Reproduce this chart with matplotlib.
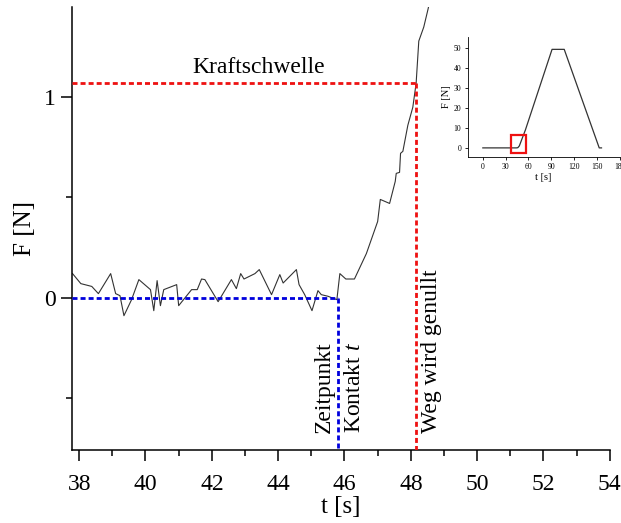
import numpy as np
import matplotlib
matplotlib.use('Agg')
import matplotlib.pyplot as plt
from matplotlib.patches import Rectangle

plt.rcParams['font.family'] = ['Liberation Serif', 'DejaVu Serif']
plt.rcParams['mathtext.fontset'] = 'custom'
plt.rcParams['mathtext.it'] = 'Liberation Serif:italic'
plt.rcParams['mathtext.rm'] = 'Liberation Serif'

# main measurement (zoomed section)
t_main = [37.8, 38.05, 38.38, 38.58, 38.95, 39.1, 39.23, 39.35, 39.58, 39.8,
          40.15, 40.25, 40.35, 40.45, 40.55, 40.94, 41.0, 41.39, 41.56, 41.69,
          41.79, 42.19, 42.59, 42.74, 42.87, 42.97, 43.3, 43.43, 43.8, 44.05,
          44.15, 44.55, 44.63, 44.8, 45.02, 45.2, 45.3, 45.5, 45.77, 45.86,
          46.04, 46.3, 46.66, 47.0, 47.08, 47.36, 47.53, 47.56, 47.66, 47.69,
          47.76, 47.91, 48.06, 48.16, 48.24, 48.39, 48.52, 48.6]
f_main = [0.12, 0.07, 0.056, 0.02, 0.12, 0.02, 0.01, -0.09, -0.01, 0.09,
          0.04, -0.065, 0.085, -0.04, 0.04, 0.065, -0.04, 0.04, 0.04, 0.093,
          0.09, -0.02, 0.09, 0.045, 0.12, 0.093, 0.12, 0.14, 0.015, 0.115,
          0.073, 0.14, 0.065, 0.015, -0.065, 0.035, 0.015, 0.007, -0.01, 0.12,
          0.093, 0.093, 0.22, 0.38, 0.49, 0.47, 0.58, 0.62, 0.625, 0.72,
          0.73, 0.86, 0.95, 1.07, 1.28, 1.35, 1.44, 1.5]

# full measurement for the inset
t_full = [0, 44, 46, 48, 56, 91, 107, 153, 156]
f_full = [0, 0, 0.1, 1, 9, 49.2, 49.2, 0, 0]

t_contact = 45.8
t_zero = 48.16
f_threshold = 1.07

fig = plt.figure(figsize=(6.21, 5.23), dpi=100)
ax = fig.add_axes([0.116, 0.1396, 0.866, 0.847])

ax.plot(t_main, f_main, color='#333333', linewidth=0.8, zorder=2)
dash = (1.8, 1.1)
ax.plot([37.785, t_contact], [0, 0], color='#0000dd', lw=2, dashes=dash, zorder=3)
ax.plot([t_contact, t_contact], [0, -0.76], color='#0000dd', lw=2, dashes=dash, zorder=3)
ax.plot([37.785, t_zero], [f_threshold, f_threshold], color='#ee1111', lw=2, dashes=dash, zorder=3)
ax.plot([t_zero, t_zero], [f_threshold, -0.76], color='#ee1111', lw=2, dashes=dash, zorder=3)

ax.text(43.41, 1.12, 'Kraftschwelle', fontsize=17, ha='center', va='baseline')
ax.text(45.39, -0.673, 'Zeitpunkt', fontsize=17, rotation=90, ha='center', va='bottom')
ax.text(46.3, -0.673, 'Kontakt $t$', fontsize=17, rotation=90, ha='center', va='bottom')
ax.text(48.63, -0.673, 'Weg wird genullt', fontsize=17, rotation=90,
        ha='center', va='bottom')

ax.set_xlim(37.785, 54)
ax.set_ylim(-0.76, 1.45)
ax.set_xticks(np.arange(38, 55, 2))
ax.set_xticks(np.arange(39, 54, 2), minor=True)
ax.set_yticks([0, 1])
ax.set_yticks([-0.5, 0.5], minor=True)
ax.tick_params(which='major', direction='out', length=8, width=1.1, labelsize=17)
ax.tick_params(axis='x', which='major', pad=9)
ax.tick_params(which='minor', direction='out', length=4, width=1.1)
ax.spines['top'].set_visible(False)
ax.spines['right'].set_visible(False)
for s in ['left', 'bottom']:
    ax.spines[s].set_linewidth(1.1)
ax.set_xlabel('t [s]', fontsize=18, labelpad=1)
ax.set_ylabel('F [N]', fontsize=18, labelpad=6)

# inset
ins = fig.add_axes([0.753, 0.700, 0.245, 0.229])
ins.plot(t_full, f_full, color='#333333', linewidth=0.9)
ins.add_patch(Rectangle((37.5, -2.5), 19, 9, fill=False, edgecolor='#ee1111', lw=1.6, zorder=3))
ins.set_xlim(-20, 180)
ins.set_ylim(-4.5, 55.3)
ins.set_xticks(np.arange(0, 181, 30))
ins.set_yticks(np.arange(0, 51, 10))
ins.tick_params(direction='out', length=2.5, width=0.6, labelsize=5.5, pad=2)
ins.spines['top'].set_visible(False)
ins.spines['right'].set_visible(False)
for s in ['left', 'bottom']:
    ins.spines[s].set_linewidth(0.6)
ins.set_xlabel('t [s]', fontsize=7.5, labelpad=1)
ins.set_ylabel('F [N]', fontsize=7.5, labelpad=2)

fig.savefig('out.png', dpi=100)
